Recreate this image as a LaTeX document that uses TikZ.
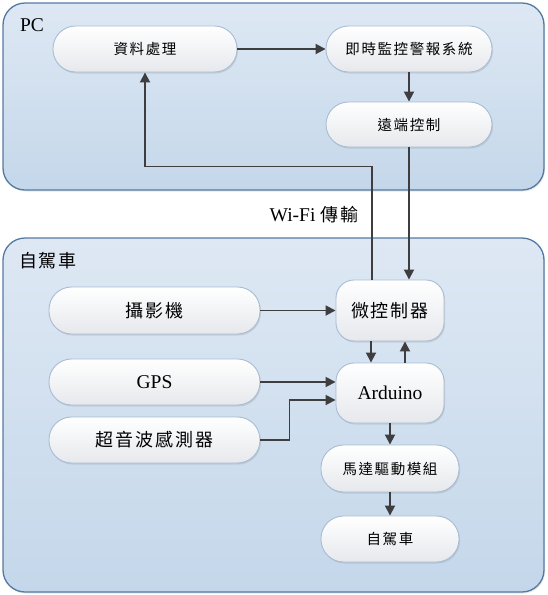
\documentclass[tikz,border=0pt]{standalone}
\usepackage{fontspec}
\setmainfont{Liberation Serif}
\newfontfamily\cjk[LetterSpace=11]{Noto Sans CJK TC}
\usetikzlibrary{shadows,arrows.meta}
\definecolor{boxborder}{RGB}{84,122,162}
\definecolor{boxtop}{RGB}{222,232,244}
\definecolor{boxbot}{RGB}{196,215,234}
\definecolor{nodeborder}{RGB}{168,188,212}
\definecolor{nodebot}{RGB}{230,232,236}
\definecolor{arrowc}{RGB}{62,62,64}
\begin{document}
\begin{tikzpicture}[x=1pt,y=-1pt,
  container/.style={draw=boxborder, line width=1.3pt, rounded corners=22pt,
    top color=boxtop, bottom color=boxbot, inner sep=0pt,
    drop shadow={opacity=0.18, shadow xshift=1pt, shadow yshift=-1.5pt}},
  box/.style={draw=nodeborder, line width=0.9pt, top color=white, bottom color=nodebot,
    inner sep=0pt, align=center,
    drop shadow={opacity=0.22, shadow xshift=1pt, shadow yshift=-1.5pt}},
  pill/.style={box, rounded corners=22.5pt},
  soft/.style={box, rounded corners=18pt},
  big/.style={font=\fontsize{18}{20}\selectfont},
  small/.style={font=\fontsize{14.5}{16}\selectfont},
  latin/.style={font=\fontsize{19.5}{22}\selectfont},
  arr/.style={draw=arrowc, line width=1.8pt, -{Triangle[length=10pt,width=10pt]}},
]
\useasboundingbox (0,0) rectangle (547,595);
% containers
\node[container, minimum width=541pt, minimum height=187pt] (pcbox) at (273.5,96.5) {};
\node[container, minimum width=541pt, minimum height=354pt] (carbox) at (273.5,415) {};
% labels
\node[latin] (pclabel) at (32,25) {PC};
\node[big] (carlabel) at (48,261) {\cjk 自駕車};
\node[latin] (wifi) at (314,215) {Wi-Fi {\cjk\fontsize{18}{20}\selectfont 傳輸}};
% PC nodes
\node[pill, small, minimum width=184pt, minimum height=46pt] (proc) at (145,49) {\cjk 資料處理};
\node[pill, small, minimum width=166pt, minimum height=46pt] (alarm) at (409,49) {\cjk 即時監控警報系統};
\node[pill, small, minimum width=166pt, minimum height=45pt] (remote) at (409,124.5) {\cjk 遠端控制};
% car nodes
\node[pill, big, minimum width=211pt, minimum height=47pt] (cam) at (154.5,310.5) {\cjk 攝影機};
\node[pill, latin, minimum width=211pt, minimum height=46pt] (gps) at (154.5,382) {GPS};
\node[pill, big, minimum width=211pt, minimum height=46pt] (us) at (154.5,440) {\cjk 超音波感測器};
\node[soft, big, minimum width=108pt, minimum height=61pt] (micro) at (390,310.5) {\cjk 微控制器};
\node[soft, latin, minimum width=108pt, minimum height=60pt] (ard) at (390,393) {Arduino};
\node[pill, small, minimum width=138pt, minimum height=47pt] (motor) at (390,468.5) {\cjk 馬達驅動模組};
\node[pill, small, minimum width=138pt, minimum height=46pt] (car) at (390,539) {\cjk 自駕車};
% connectors
\draw[arr] (proc.east) -- (alarm.west);
\draw[arr] (alarm.south) -- (remote.north);
\draw[arr] (remote.south) -- (remote.south |- micro.north);
\draw[arr] ([xshift=-18pt]micro.north) -- ++(0,-113) -| (proc.south);
\draw[arr] (cam.east) -- (micro.west);
\draw[arr] ([xshift=-19pt]micro.south) -- ([xshift=-19pt]ard.north);
\draw[arr] ([xshift=15pt]ard.north) -- ([xshift=15pt]micro.south);
\draw[arr] (gps.east) -- (gps.east -| ard.west);
\draw[arr] (us.east) -- ++(29,0) |- ([yshift=-7pt]ard.west);
\draw[arr] (ard.south) -- (motor.north);
\draw[arr] (motor.south) -- (car.north);
\end{tikzpicture}
\end{document}
